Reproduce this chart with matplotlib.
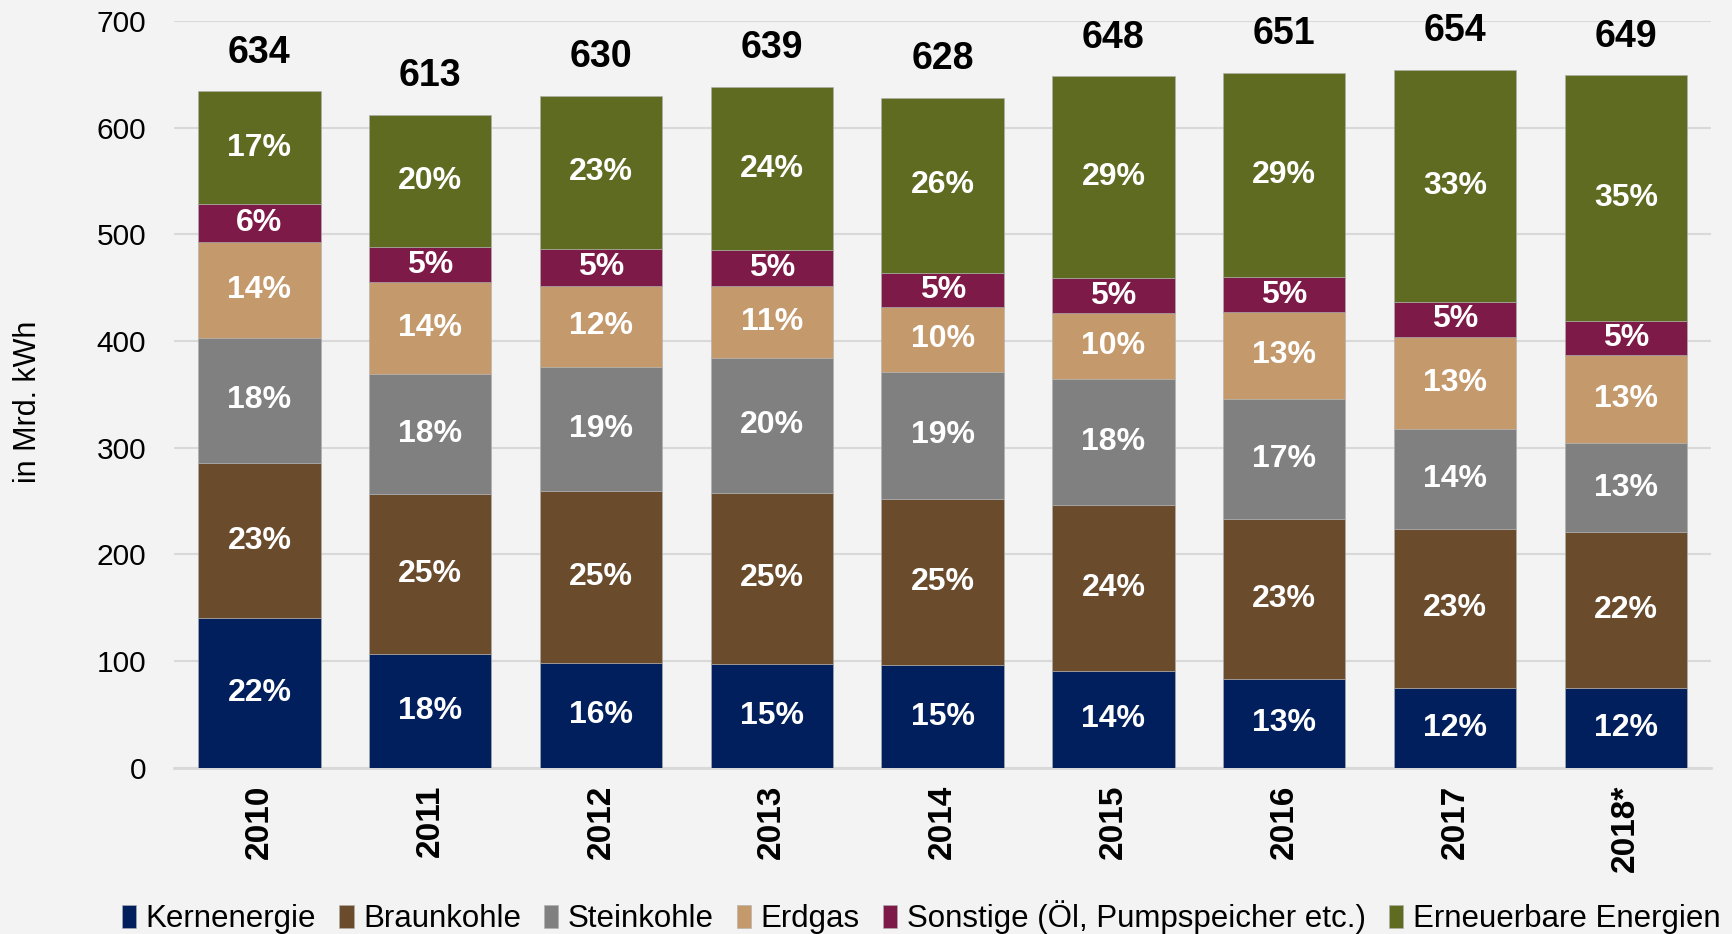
import matplotlib.pyplot as plt
import numpy as np

plt.rcParams['font.family'] = ['Liberation Sans', 'DejaVu Sans']

# data (Mrd. kWh)
years = ["2010", "2011", "2012", "2013", "2014", "2015", "2016", "2017", "2018*"]
totals = [634, 613, 630, 639, 628, 648, 651, 654, 649]

kern = [140, 107, 98, 97, 96, 91, 83, 75, 75]
braun = [146, 150, 161, 161, 156, 155, 150, 149, 146]
stein = [117, 112, 117, 126, 119, 118, 113, 94, 83]
erdgas = [90, 86, 76, 68, 61, 62, 81, 86, 83]
sonstige = [35, 33, 34, 33, 32, 33, 33, 33, 32]
erneuerbar = [106, 124, 144, 153, 164, 189, 191, 217, 230]

kern_pct = [22, 18, 16, 15, 15, 14, 13, 12, 12]
braun_pct = [23, 25, 25, 25, 25, 24, 23, 23, 22]
stein_pct = [18, 18, 19, 20, 19, 18, 17, 14, 13]
erdgas_pct = [14, 14, 12, 11, 10, 10, 13, 13, 13]
sonstige_pct = [6, 5, 5, 5, 5, 5, 5, 5, 5]
erneuerbar_pct = [17, 20, 23, 24, 26, 29, 29, 33, 35]

series = [
    ("Kernenergie", kern, kern_pct, "#001F5C"),
    ("Braunkohle", braun, braun_pct, "#6A4C2D"),
    ("Steinkohle", stein, stein_pct, "#808080"),
    ("Erdgas", erdgas, erdgas_pct, "#C4996C"),
    ("Sonstige (Öl, Pumpspeicher etc.)", sonstige, sonstige_pct, "#7E1A47"),
    ("Erneuerbare Energien", erneuerbar, erneuerbar_pct, "#5F6B21"),
]

bg = "#F3F3F3"
fig = plt.figure(figsize=(17.32, 9.34), dpi=100, facecolor=bg)
ax = fig.add_axes([0.1005, 0.178, 0.8875, 0.7995])
ax.set_facecolor(bg)

x = np.arange(len(years))
bottom = np.zeros(len(years))
for name, vals, pcts, col in series:
    vals = np.array(vals, dtype=float)
    ax.bar(x, vals, 0.716, bottom=bottom, color=col, label=name,
           edgecolor="#B0B0B0", linewidth=0.4, zorder=3)
    for i in range(len(years)):
        ax.text(x[i], bottom[i] + vals[i] / 2, f"{pcts[i]}%", ha="center",
                va="center", color="white", fontsize=23, fontweight="bold",
                zorder=4)
    bottom += vals

for i in range(len(years)):
    ax.annotate(str(totals[i]), (x[i], bottom[i]), xytext=(0, 28),
                textcoords="offset points", ha="center", va="center",
                fontsize=27, fontweight="bold", color="black")

ax.set_xlim(-0.5, len(years) - 0.5)
ax.set_ylim(0, 700)
ax.set_yticks(range(0, 701, 100))
ax.tick_params(axis="y", labelsize=21.5, length=0, pad=20)
ax.set_xticks(x)
ax.set_xticklabels(years, rotation=90, fontsize=24, fontweight="bold")
ax.tick_params(axis="x", length=0, pad=12)
ax.grid(axis="y", color="#D9D9D9", linewidth=1.5, zorder=0)
for s in ["left", "right", "top"]:
    ax.spines[s].set_visible(False)
ax.spines["bottom"].set_color("#D9D9D9")
ax.spines["bottom"].set_linewidth(2)
ax.set_ylabel("in Mrd. kWh", fontsize=22)
ax.yaxis.set_label_coords(-0.085, 0.49)

ax.legend(loc="center", bbox_to_anchor=(0.486, -0.2), ncol=6, frameon=False,
          fontsize=22.5, handlelength=0.45, handleheight=0.75, handletextpad=0.3,
          columnspacing=0.75, borderaxespad=0)

plt.savefig("out.png", dpi=100, facecolor=bg)
